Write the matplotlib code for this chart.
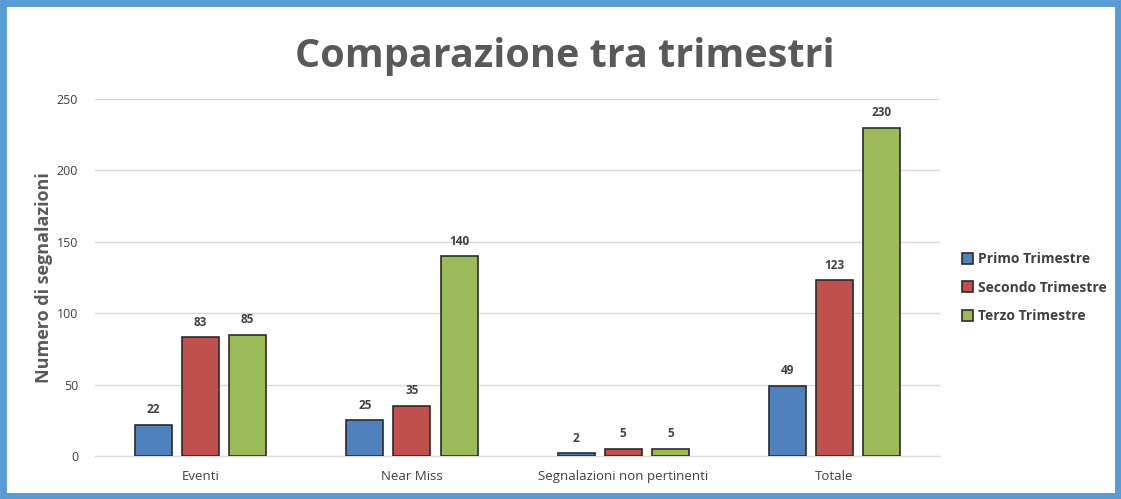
import matplotlib.pyplot as plt
import numpy as np
from matplotlib.patches import Rectangle

plt.rcParams['font.family'] = ['Open Sans', 'DejaVu Sans']

categories = ["Eventi", "Near Miss", "Segnalazioni non pertinenti", "Totale"]
series = ["Primo Trimestre", "Secondo Trimestre", "Terzo Trimestre"]
primo = [22, 25, 2, 49]
secondo = [83, 35, 5, 123]
terzo = [85, 140, 5, 230]
colors = ["#4f81bd", "#c0504d", "#9bbb59"]

fig = plt.figure(figsize=(11.21, 4.99), dpi=100)
ax = fig.add_axes([0.0847, 0.0862, 0.754, 0.7154])

x = np.arange(len(categories))
width = 0.175
pitch = 0.223
for i, (vals, name, col) in enumerate(zip([primo, secondo, terzo], series, colors)):
    pos = x + (i - 1) * pitch
    bars = ax.bar(pos, vals, width, color=col, edgecolor="#2b2b2b", linewidth=1.2,
                  label=name, zorder=3)
    for b, v in zip(bars, vals):
        ax.text(b.get_x() + b.get_width() / 2, v + 6, str(v), ha="center", va="bottom",
                fontsize=8.5, fontweight="bold", color="#404040")

ax.set_xlim(-0.5, len(categories) - 0.5)
ax.set_ylim(0, 250)
ax.set_yticks(range(0, 251, 50))
ax.set_xticks(x)
ax.set_xticklabels(categories, fontsize=9.5, color="#404040")
ax.tick_params(axis="both", length=0, colors="#404040")
ax.tick_params(axis="x", pad=10, labelsize=9.5)
ax.tick_params(axis="y", pad=12, labelsize=9)
ax.grid(axis="y", color="#d9d9d9", linewidth=1, zorder=0)
for s in ["top", "right", "left"]:
    ax.spines[s].set_visible(False)
ax.spines["bottom"].set_color("#d9d9d9")
ax.set_ylabel("Numero di segnalazioni", fontsize=13, fontweight="bold", color="#595959",
              labelpad=3)

fig.text(0.504, 0.887, "Comparazione tra trimestri", ha="center", va="center",
         fontsize=28.5, fontweight="bold", color="#595959")

leg = fig.legend(loc="upper left", bbox_to_anchor=(0.847, 0.52), frameon=False,
                 fontsize=10, handlelength=0.8, handleheight=0.8, handletextpad=0.35,
                 labelspacing=1.05, labelcolor="#404040")
for t in leg.get_texts():
    t.set_fontweight("bold")

fig.patches.append(Rectangle((0.003, 0.006), 0.994, 0.988, transform=fig.transFigure,
                             fill=False, edgecolor="#5b9bd5", linewidth=5))

fig.savefig("out.png", dpi=100)
